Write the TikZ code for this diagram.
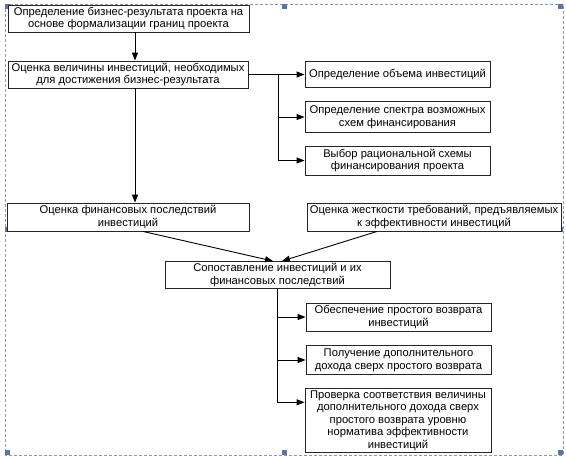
\documentclass[tikz,border=0pt]{standalone}
\usepackage{fontspec}
\setmainfont{Liberation Sans}
\usetikzlibrary{arrows.meta,calc}
\definecolor{framecol}{HTML}{8A9AB4}
\definecolor{handlecol}{HTML}{5A76A6}
\begin{document}
\begin{tikzpicture}[x=1pt,y=-1pt,
  box/.style={draw=black!85, line width=0.9pt, fill=white, inner sep=0pt, align=center,
    font=\fontsize{11.2}{12.8}\selectfont},
  arr/.style={line width=0.9pt, -{Triangle[length=8pt,width=6pt]}},
  ln/.style={line width=0.9pt},
  handle/.style={fill=handlecol, draw=none}]
\useasboundingbox (0,0) rectangle (566,458);
% selection frame
\draw[framecol, dash pattern=on 3pt off 2pt, line width=0.8pt] (5,4) rectangle (563,455);
\foreach \hx/\hy in {5/4, 282/4, 558/4, 5/227, 558/227, 5/450, 282/450, 558/450}
  \fill[handle] (\hx,\hy) rectangle ++(5,5);
% boxes
\node[box, minimum width=241pt, minimum height=27pt] (b1) at (128.5,18.5)
  {Определение бизнес-результата проекта на\\основе формализации границ проекта};
\node[box, minimum width=240pt, minimum height=27pt] (b2) at (128,74.5)
  {Оценка величины инвестиций, необходимых\\для достижения бизнес-результата};
\node[box, minimum width=185pt, minimum height=26pt] (bA) at (397.5,74.5)
  {Определение объема инвестиций};
\node[box, minimum width=185pt, minimum height=31pt] (bB) at (397.5,117)
  {Определение спектра возможных\\схем финансирования};
\node[box, minimum width=185pt, minimum height=29pt] (bC) at (397.5,160.5)
  {Выбор рациональной схемы\\финансирования проекта};
\node[box, minimum width=242pt, minimum height=28pt] (b3) at (128,217)
  {Оценка финансовых последствий\\инвестиций};
\node[box, minimum width=254pt, minimum height=28pt] (b4) at (434,217)
  {Оценка жесткости требований, предъявляемых\\к эффективности инвестиций};
\node[box, minimum width=225pt, minimum height=27pt] (b5) at (277.5,275)
  {Сопоставление инвестиций и их\\финансовых последствий};
\node[box, minimum width=185pt, minimum height=28pt] (b6) at (398.5,317)
  {Обеспечение простого возврата\\инвестиций};
\node[box, minimum width=185pt, minimum height=29pt] (b7) at (398.5,360)
  {Получение дополнительного\\дохода сверх простого возврата};
\node[box, minimum width=186pt, minimum height=64pt, font=\fontsize{11.2}{12.4}\selectfont] (b8) at (398,420.5)
  {Проверка соответствия величины\\дополнительного дохода сверх\\простого возврата уровню\\норматива эффективности\\инвестиций};
% connectors
\draw[arr] ([xshift=6.5pt]b1.south) -- ([xshift=7pt]b2.north);
\draw[arr] ([xshift=7pt]b2.south) -- ([xshift=7pt]b3.north);
\draw[arr] (b2.east) -- (bA.west);
\coordinate (t1) at ($(b2.east)+(30,0)$);
\draw[arr] (t1) |- (bB.west);
\draw[arr] (t1) |- (bC.west);
\draw[arr] ([xshift=15pt]b3.south) -- ([xshift=-4.5pt]b5.north);
\draw[arr] ([xshift=-57pt]b4.south) -- ([xshift=4.5pt]b5.north);
\draw[arr] (b5.south) |- (b6.west);
\draw[arr] (b5.south) |- (b7.west);
\draw[arr] (b5.south) |- ($(b8.north west)!0.22!(b8.south west)$);
\end{tikzpicture}
\end{document}
